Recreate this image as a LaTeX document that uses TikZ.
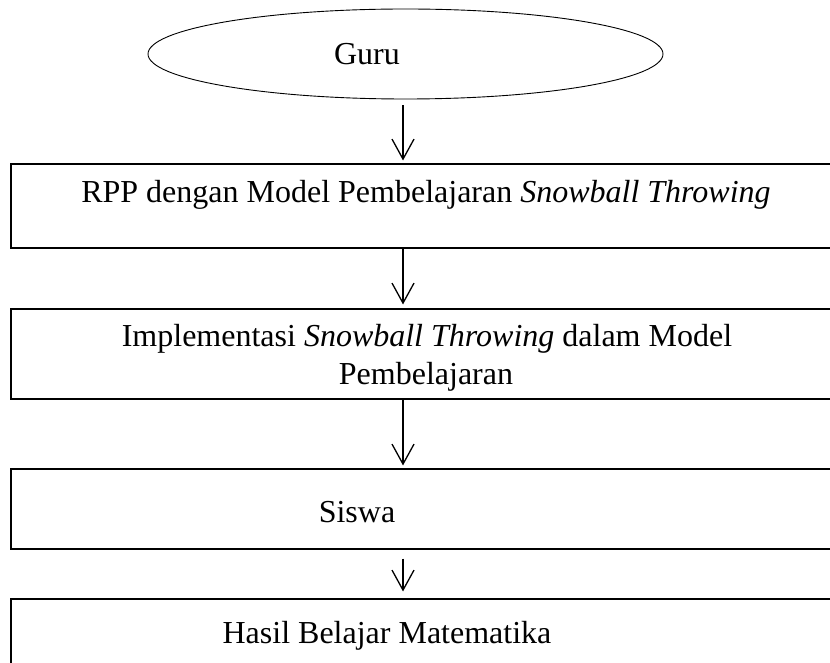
\documentclass[tikz,border=0pt]{standalone}
\usepackage{fontspec}
\setmainfont{Liberation Serif}
\usetikzlibrary{arrows.meta,shapes.geometric}
\begin{document}
\begin{tikzpicture}[x=1pt,y=1pt,
  frame/.style={draw, line width=1.1pt, rectangle, inner sep=0pt, minimum width=839pt},
  oval/.style={draw, ellipse, line width=0.9pt, inner sep=0pt, minimum width=515pt, minimum height=90pt},
  lbl/.style={anchor=base, inner sep=0pt, font=\fontsize{32}{38}\selectfont},
  arr/.style={line width=1.3pt, -{Straight Barb[length=20pt,width=22pt,line width=1.3pt]}}]
\useasboundingbox (0,0) rectangle (830,662);
\clip (0,0) rectangle (830,662);
% shapes
\node[oval] (guru) at (405.5,608) {};
\node[frame, minimum height=84pt] (b1) at (430.5,456) {};
\node[frame, minimum height=90pt] (b2) at (430.5,308) {};
\node[frame, minimum height=80pt] (b3) at (430.5,153) {};
\node[frame, minimum height=100pt] (b4) at (430.5,13) {};
% texts
\node[lbl] (tguru) at (367,597) {Guru};
\node[lbl] (t1) at (426,459) {RPP dengan Model Pembelajaran \textit{Snowball Throwing}};
\node[lbl] (t2a) at (427,315) {Implementasi \textit{Snowball Throwing} dalam Model};
\node[lbl] (t2b) at (426,277) {Pembelajaran};
\node[lbl] (t3) at (357,140) {Siswa};
\node[lbl] (t4) at (387,19) {Hasil Belajar Matematika};
% connectors
\coordinate (ax) at (403,0);
\draw[arr, shorten <=6pt, shorten >=3pt] (ax |- guru.south) -- (ax |- b1.north);
\draw[arr, shorten >=4pt] (ax |- b1.south) -- (ax |- b2.north);
\draw[arr, shorten >=3pt] (ax |- b2.south) -- (ax |- b3.north);
\draw[arr, shorten <=9pt, shorten >=7pt] (ax |- b3.south) -- (ax |- b4.north);
\end{tikzpicture}
\end{document}
